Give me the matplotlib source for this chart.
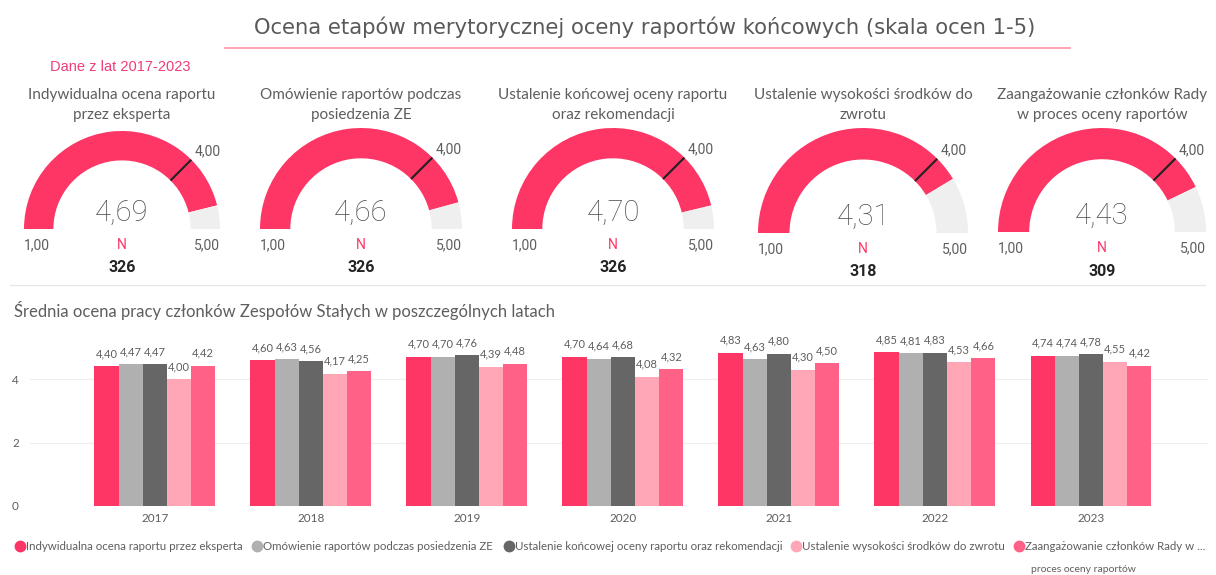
import math
import matplotlib.pyplot as plt
from matplotlib.patches import Wedge

W, H = 1216, 575

plt.rcParams['font.family'] = ['Lato', 'DejaVu Sans']

# --- dane: wskazniki (gauge)
gauge_titles = [
    ("Indywidualna ocena raportu", "przez eksperta"),
    ("Omówienie raportów podczas", "posiedzenia ZE"),
    ("Ustalenie końcowej oceny raportu", "oraz rekomendacji"),
    ("Ustalenie wysokości środków do", "zwrotu"),
    ("Zaangażowanie członków Rady", "w proces oceny raportów"),
]
gauge_values = [4.69, 4.66, 4.70, 4.31, 4.43]
gauge_counts = [326, 326, 326, 318, 309]
gauge_target = 4.0
gauge_min, gauge_max = 1.0, 5.0

# --- dane: wykres slupkowy
years = ["2017", "2018", "2019", "2020", "2021", "2022", "2023"]
series_names = [
    "Indywidualna ocena raportu przez eksperta",
    "Omówienie raportów podczas posiedzenia ZE",
    "Ustalenie końcowej oceny raportu oraz rekomendacji",
    "Ustalenie wysokości środków do zwrotu",
    "Zaangażowanie członków Rady w ...",
]
s_ekspert = [4.40, 4.60, 4.70, 4.70, 4.83, 4.85, 4.74]
s_omowienie = [4.47, 4.63, 4.70, 4.64, 4.63, 4.81, 4.74]
s_ustalenie = [4.47, 4.56, 4.76, 4.68, 4.80, 4.83, 4.78]
s_zwrot = [4.00, 4.17, 4.39, 4.08, 4.30, 4.53, 4.55]
s_rada = [4.42, 4.25, 4.48, 4.32, 4.50, 4.66, 4.42]
series = [s_ekspert, s_omowienie, s_ustalenie, s_zwrot, s_rada]

colors = ["#FD3665", "#B0B0B0", "#666666", "#FFA6B7", "#FF6286"]
PINK = "#FD3665"
TRACK = "#F0EFEF"
TXT = "#605E5C"

# uklad wskaznikow w pikselach: (srodek x, srodek y, promien)
gauge_pos = [(122, 229, 98), (361, 229, 101), (613, 229, 101),
             (863, 233, 105), (1102, 232, 104)]
# pozycje x znacznikow legendy (piksele)
legend_x = [20, 257, 509, 796, 1019]


def fmt(v):
    return f"{v:.2f}".replace(".", ",")


def angle(v):
    # os y odwrocona -> gorna polowka to 180..360 stopni
    return 180 + (v - gauge_min) / (gauge_max - gauge_min) * 180


fig = plt.figure(figsize=(W / 100, H / 100), dpi=100)
ov = fig.add_axes([0, 0, 1, 1])
ov.set_xlim(0, W)
ov.set_ylim(H, 0)
ov.axis('off')

ov.text(645, 27, "Ocena etapów merytorycznej oceny raportów końcowych (skala ocen 1-5)",
        ha='center', va='center', fontsize=15.2, color="#595959", family='DejaVu Sans')
ov.plot([225, 1070], [48, 48], color="#FF94A8", lw=1.2)
ov.text(50, 67, "Dane z lat 2017-2023", ha='left', va='center', fontsize=10.5,
        color="#F03C78", family='Liberation Sans')

for (cx, cy, r), (t1, t2), val, n in zip(gauge_pos, gauge_titles, gauge_values, gauge_counts):
    w = 0.3 * r
    a_val = angle(val)
    ov.add_patch(Wedge((cx, cy), r, 180, a_val, width=w, color=PINK, lw=0))
    ov.add_patch(Wedge((cx, cy), r, a_val, 360, width=w, color=TRACK, lw=0))
    a_t = angle(gauge_target)
    ca, sa = math.cos(math.radians(a_t)), math.sin(math.radians(a_t))
    ov.plot([cx + (r - w) * ca, cx + r * ca], [cy + (r - w) * sa, cy + r * sa],
            color="#222222", lw=1.5, solid_capstyle='butt')
    ov.text(cx + r * ca + 3, cy + r * sa - 8, fmt(gauge_target), ha='left', va='center',
            fontsize=10, color=TXT, family='Roboto')
    ov.text(cx, 95, t1, ha='center', va='center', fontsize=11, color=TXT)
    ov.text(cx, 115, t2, ha='center', va='center', fontsize=11, color=TXT)
    ov.text(cx, cy - 16, fmt(val), ha='center', va='center', fontsize=21,
            color="#4F4F4F", family='Roboto', fontweight='light')
    ov.text(cx - r, cy + 16, fmt(gauge_min), ha='left', va='center',
            fontsize=10, color=TXT, family='Roboto')
    ov.text(cx + r, cy + 16, fmt(gauge_max), ha='right', va='center',
            fontsize=10, color=TXT, family='Roboto')
    ov.text(cx, cy + 16, "N", ha='center', va='center', fontsize=10,
            color=PINK, family='Roboto')
    ov.text(cx, cy + 39, str(n), ha='center', va='center', fontsize=11.5,
            color="#252423", family='Roboto', fontweight='bold')

ov.plot([10, 1205], [285, 285], color="#E6E6E6", lw=1)
ov.text(14, 311, "Średnia ocena pracy członków Zespołów Stałych w poszczególnych latach",
        ha='left', va='center', fontsize=12, color=TXT)

# --- wykres slupkowy
ax = fig.add_axes([30 / W, 1 - 506 / H, 1178 / W, (506 - 334) / H])
x = list(range(len(years)))
bw = 0.155
for i, (vals, col) in enumerate(zip(series, colors)):
    xs = [xi + (i - 2) * bw for xi in x]
    ax.bar(xs, vals, width=bw, color=col, zorder=2, lw=0)
    for xx, v in zip(xs, vals):
        ax.annotate(fmt(v), (xx, v), xytext=(0, 5), textcoords='offset points',
                    ha='center', va='bottom', fontsize=8, color=TXT)

ax.set_xlim(-0.80, 6.75)
ax.set_ylim(0, 5.42)
ax.set_yticks([0, 2, 4])
ax.set_xticks(x)
ax.set_xticklabels(years)
ax.tick_params(axis='both', length=0, labelsize=8.5, colors=TXT)
ax.tick_params(axis='y', pad=8)
ax.tick_params(axis='x', pad=5)
ax.grid(axis='y', color="#EEEEEE", lw=0.8, zorder=0)
for s in ax.spines.values():
    s.set_visible(False)

# legenda ukladana recznie, jak w raporcie
for lx, name, col in zip(legend_x, series_names, colors):
    ov.plot(lx, 546, marker='o', ms=7.5, color=col, ls='')
    ov.text(lx + 6, 546, name, ha='left', va='center', fontsize=8.3, color=TXT)
ov.text(1083, 569, "proces oceny raportów", ha='center', va='center', fontsize=7.5, color=TXT)

fig.savefig("out.png", dpi=100)
